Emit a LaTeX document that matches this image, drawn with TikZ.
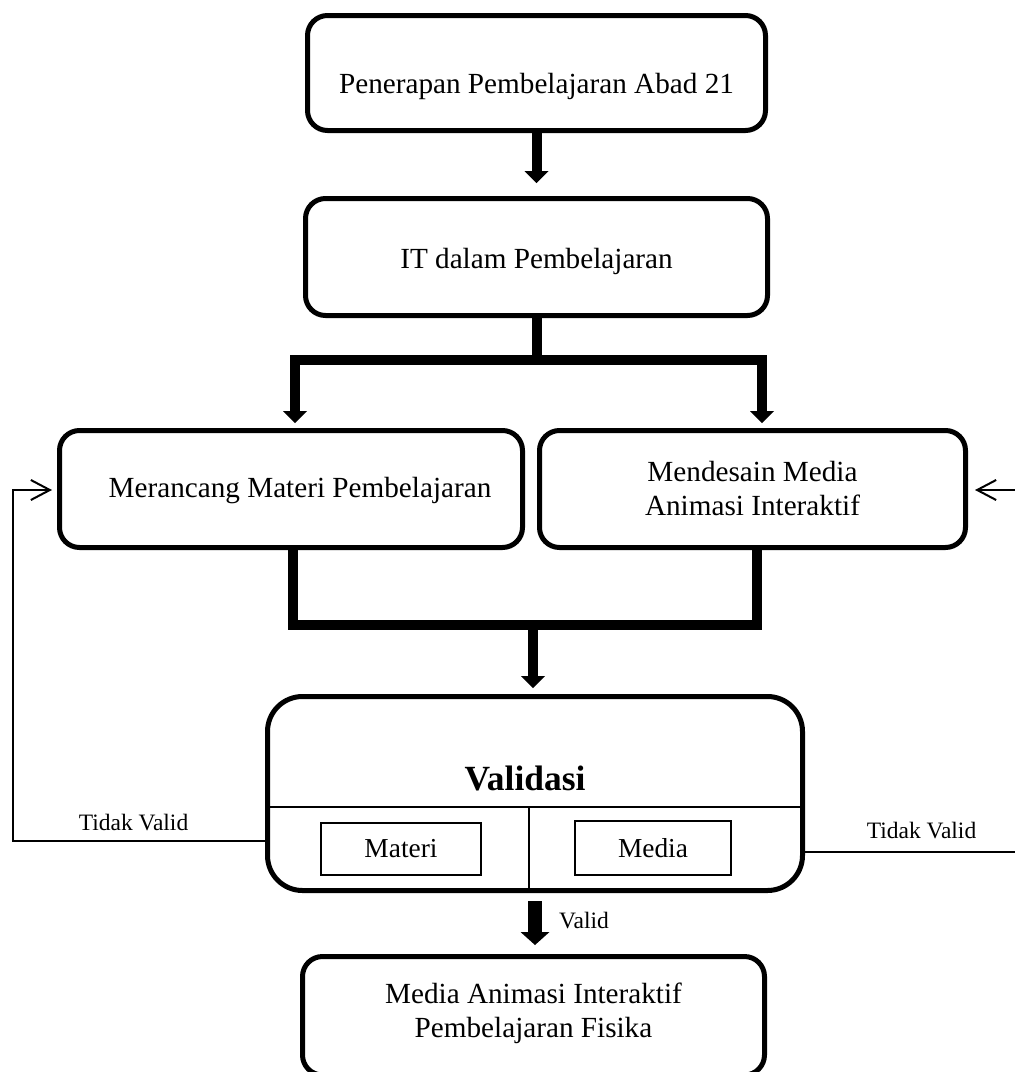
\documentclass[tikz,border=0pt]{standalone}
\usepackage{fontspec}
\setmainfont{Liberation Serif}
\usetikzlibrary{arrows.meta}

\begin{document}
\begin{tikzpicture}[x=0.5pt,y=-0.5pt,
  box/.style={draw, line width=2.5pt, rounded corners=10pt, align=center,
    inner sep=0pt, font=\fontsize{14.6pt}{17pt}\selectfont},
  valbox/.style={draw, line width=2.5pt, rounded corners=17.5pt, inner sep=0pt},
  subbox/.style={draw, line width=0.8pt, inner sep=0pt,
    font=\fontsize{13.7pt}{16pt}\selectfont},
  fork/.style={line width=5pt, line join=miter},
  bigarrow/.style={line width=5pt,
    -{Triangle[width=12pt,length=6pt,line width=0pt]}},
  forktips/.style={line width=5pt, line join=miter,
    {Triangle[width=12pt,length=6pt,line width=0pt]}-{Triangle[width=12pt,length=6pt,line width=0pt]}},
  fbline/.style={line width=1pt, line join=miter,
    -{Straight Barb[width=10pt,length=9.5pt]}},
  thinline/.style={line width=1pt},
  note/.style={font=\fontsize{11.75pt}{14pt}\selectfont, inner sep=0pt, anchor=base},
]
% page area
\fill[white] (0,0) rectangle (1014,1072);
\useasboundingbox (0,0) rectangle (1014,1072);

% process boxes
\node[box, minimum width=229pt, minimum height=57.5pt] (b1) at (536.5,73)
  {\raisebox{-6.5pt}[\height][\depth]{Penerapan Pembelajaran Abad 21}};
\node[box, minimum width=231pt, minimum height=58.5pt] (b2) at (536.5,257)
  {\raisebox{-2pt}[\height][\depth]{IT dalam Pembelajaran}};
\node[box, minimum width=231.5pt, minimum height=58.5pt] (b3) at (291,489)
  {\raisebox{-1pt}[\height][\depth]{\hspace*{9pt}Merancang Materi Pembelajaran}};
\node[box, minimum width=213pt, minimum height=58.5pt] (b4) at (752.5,489)
  {Mendesain Media\\Animasi Interaktif};
\node[box, minimum width=231pt, minimum height=59.25pt] (fin) at (533.5,1015.75)
  {\raisebox{1pt}[\height][\depth]{\begin{tabular}{@{}c@{}}Media Animasi Interaktif\\Pembelajaran Fisika\end{tabular}}};

% validation box with its two parts
\node[valbox, minimum width=267.5pt, minimum height=97pt] (val) at (535,793.5) {};
\node[anchor=base, inner sep=0pt, font=\fontsize{17.7pt}{20pt}\selectfont\bfseries]
  (vtitle) at (525,790) {Validasi};
\coordinate (divl) at (0,807);
\coordinate (divtop) at (529,807);
\draw[thinline] (divl -| val.west) -- (divl -| val.east);
\draw[thinline] (divtop) -- (divtop |- val.south);
\node[subbox, minimum width=80pt, minimum height=26pt] (mat) at (401,849) {Materi};
\node[subbox, minimum width=78pt, minimum height=27pt] (med) at (653,848) {Media};

% main flow
\draw[bigarrow, shorten >=6.5pt] (b1) -- (b2);
\coordinate (split) at (536.5,360);
\draw[fork] (b2.south) -- (split);
\draw[forktips, shorten <=2.5pt, shorten >=2.5pt]
  ([xshift=2pt]b3.north) |- (split) -| ([xshift=4.75pt]b4.north);
\coordinate (merge) at (533,625);
\draw[fork] ([xshift=1pt]b3.south) |- (merge) -| ([xshift=2.25pt]b4.south);
\draw[bigarrow, shorten >=3pt] (merge) -- (merge |- val.north);
\draw[line width=7pt, -{Triangle[width=14.5pt,length=6.5pt,line width=0pt]},
  shorten <=4pt, shorten >=4.5pt] (val.south) -- (val.south |- fin.north);
\node[note] (valid) at (584,928) {Valid};

% feedback loops
\coordinate (lbot) at (13,841);
\coordinate (ltop) at (13,490);
\draw[fbline, shorten >=2.5pt] (lbot -| val.west) -- (lbot) -- (ltop) -- (ltop -| b3.west);
\node[note] (tvl) at (133.5,830) {Tidak Valid};
\coordinate (rbot) at (1022,852);
\coordinate (rtop) at (1022,490);
\draw[fbline, shorten >=3.5pt] (rbot -| val.east) -- (rbot) -- (rtop) -- (rtop -| b4.east);
\node[note] (tvr) at (921.5,838) {Tidak Valid};
\end{tikzpicture}
\end{document}
